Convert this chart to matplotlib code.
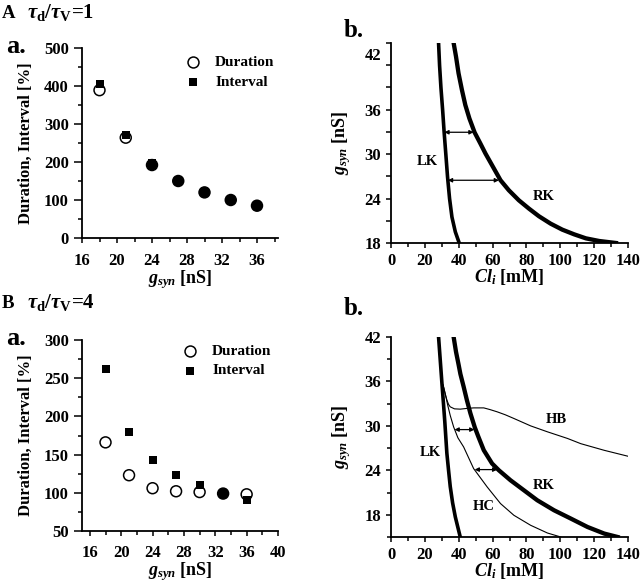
import numpy as np
import matplotlib
matplotlib.use('Agg')
import matplotlib.pyplot as plt
from matplotlib.ticker import MultipleLocator

plt.rcParams['font.family'] = ['Liberation Serif', 'DejaVu Serif']
plt.rcParams['font.weight'] = 'bold'
plt.rcParams['axes.labelweight'] = 'bold'
plt.rcParams['mathtext.fontset'] = 'custom'
plt.rcParams['mathtext.rm'] = 'Liberation Serif:bold'
plt.rcParams['mathtext.it'] = 'Liberation Serif:bold:italic'
plt.rcParams['mathtext.bf'] = 'Liberation Serif:bold'

# ---------------- data ----------------
g_syn = [18, 21, 24, 27, 30, 33, 36]
dur_A = [389, 264, 192, 150, 120, 100, 85]
int_A = [405, 271, 197, 150, 120, 100, 85]
dur_B = [166, 123, 106, 102, 101, 99, 98]
int_B = [262, 180, 143, 123, 110, 99, 91]

# bifurcation curves (Cl_i [mM], g_syn [nS])
LK_A_cl = [28.1, 28.7, 29.5, 30.5, 31.4, 32.4, 33.4, 34.6, 36.0, 38.0, 40.3]
LK_A_g = [45.0, 41.95, 38.97, 35.95, 32.92, 29.95, 26.92, 23.99, 21.5, 19.5, 18.0]
RK_A_cl = [37.0, 38.4, 39.9, 41.9, 43.9, 46.3, 49.4, 52.8, 55.8, 59.7, 64.7,
           69.6, 75.5, 81.5, 87.4, 94.3, 101.2, 108.2, 115.1, 123.0, 132.9]
RK_A_g = [45.0, 43.17, 40.91, 38.66, 36.63, 34.82, 32.92, 31.43, 30.08, 28.50,
          26.47, 25.12, 23.77, 22.64, 21.61, 20.61, 19.80, 19.17, 18.63, 18.27, 18.0]
arrow_A_g = [32.95, 26.47]
arrow_A_left = [31.5, 33.6]
arrow_A_right = [48.8, 63.8]

LK_B_cl = [28.1, 29.1, 30.1, 31.0, 31.8, 33.0, 34.0, 35.0, 36.4, 38.0, 40.9]
LK_B_g = [42.0, 38.85, 35.7, 33.0, 30.5, 26.3, 24.0, 21.8, 19.6, 17.7, 15.0]
RK_B_cl = [37.0, 38.4, 39.9, 41.0, 42.9, 44.8, 46.9, 49.5, 51.5, 54.8, 59.7,
           63.7, 70.6, 78.5, 86.4, 96.3, 106.2, 116.1, 126.0, 133.9]
RK_B_g = [42.0, 40.0, 38.3, 37.0, 35.3, 33.5, 31.7, 29.8, 28.6, 26.72, 24.92,
          24.01, 22.66, 21.31, 19.96, 18.61, 17.49, 16.35, 15.46, 15.0]
HC_B_cl = [30.8, 32.0, 33.5, 35.0, 37.0, 39.5, 42.9, 48.8, 56.8, 64.7, 72.6,
           82.5, 92.4, 100.3]
HC_B_g = [35.5, 34.4, 32.8, 31.4, 29.86, 28.4, 27.16, 24.24, 21.76, 19.51,
          17.93, 16.58, 15.54, 15.0]
HB_B_cl = [30.8, 32.0, 33.0, 34.0, 35.0, 37.5, 40.9, 44.5, 48.8, 54.8, 58.5,
           62.7, 67.5, 72.6, 82.5, 92.4, 104.3, 112.1, 126.0, 141.8]
HB_B_g = [35.5, 34.3, 33.5, 32.9, 32.57, 32.3, 32.26, 32.35, 32.43, 32.43, 32.2,
          31.9, 31.5, 31.0, 30.0, 29.2, 28.3, 27.6, 26.7, 25.8]
arrow_B_g = [29.5, 24.1]
arrow_B_left = [37.5, 49.4]
arrow_B_right = [49.3, 62.8]

W, H = 640, 584
fig = plt.figure(figsize=(W / 100, H / 100), dpi=100)


def rect(l, t, r, b):
    return [l / W, 1 - b / H, (r - l) / W, (b - t) / H]


TICK_FS = 12
LAB_FS = 12


def style(ax, xpad, ypad, ylen):
    for s in ['top', 'right']:
        ax.spines[s].set_visible(False)
    for s in ['left', 'bottom']:
        ax.spines[s].set_linewidth(1.3)
    ax.tick_params(which='both', direction='out', width=1.1, labelsize=TICK_FS)
    ax.tick_params(axis='x', which='major', length=3.6, pad=xpad)
    ax.tick_params(axis='x', which='minor', length=3.0)
    ax.tick_params(axis='y', which='major', length=ylen, pad=ypad)
    ax.tick_params(axis='y', which='minor', length=3.0)


def bold_ticks(ax):
    for axis in (ax.xaxis, ax.yaxis):
        for t in axis.get_major_ticks():
            t.label1.set_fontweight('bold')


def scatter_panel(ax, x, dur, intv, xlim, xticks, ylim, yticks, leg_x, leg_y, xpad):
    close = np.isclose(dur, intv, atol=5)
    fc = ['black' if c else 'white' for c in close]
    ax.scatter(x, dur, s=62, facecolors=fc, edgecolors='black', linewidths=1.1,
               marker='o', zorder=2)
    ax.scatter(x, intv, s=40, color='black', marker='s', zorder=3, linewidths=0)
    ax.set_xlim(*xlim)
    ax.set_ylim(*ylim)
    ax.set_xticks(xticks)
    ax.set_yticks(yticks)
    ax.xaxis.set_minor_locator(MultipleLocator(2))
    ax.yaxis.set_minor_locator(MultipleLocator((yticks[1] - yticks[0]) / 2))
    ax.set_xlabel(r'$g_{syn}$ [nS]', fontsize=LAB_FS + 1, labelpad=-1)
    ax.set_ylabel('Duration, Interval [%]', fontsize=LAB_FS)
    ax.yaxis.set_label_coords(-0.245, 0.5)
    style(ax, xpad, 4.0, 5.5)
    # legend
    ax.scatter([leg_x], [leg_y[0]], s=62, facecolors='white', edgecolors='black',
               linewidths=1.1, transform=ax.transAxes, clip_on=False)
    ax.scatter([leg_x], [leg_y[1]], s=40, color='black', marker='s', linewidths=0,
               transform=ax.transAxes, clip_on=False)
    ax.text(leg_x + 0.113, leg_y[0], 'Duration', transform=ax.transAxes,
            fontsize=11, va='center', ha='left')
    ax.text(leg_x + 0.113, leg_y[1], 'Interval', transform=ax.transAxes,
            fontsize=11, va='center', ha='left')


# ---------- A a ----------
axAa = fig.add_axes(rect(82, 48, 278, 238))
scatter_panel(axAa, g_syn, dur_A, int_A, (16, 38.4), [16, 20, 24, 28, 32, 36],
              (0, 500), [0, 100, 200, 300, 400, 500], 0.566, (0.926, 0.82), 7.5)

# ---------- B a ----------
axBa = fig.add_axes(rect(82, 340, 278, 531))
scatter_panel(axBa, g_syn, dur_B, int_B, (15, 40), [16, 20, 24, 28, 32, 36, 40],
              (50, 300), [50, 100, 150, 200, 250, 300], 0.551, (0.942, 0.838), 6.5)


def curve_style(ax, ylim):
    ax.set_xlim(0, 140)
    ax.set_ylim(*ylim)
    ax.set_xticks(range(0, 141, 20))
    ax.xaxis.set_minor_locator(MultipleLocator(10))
    ax.set_xlabel(r'$Cl_i$ [mM]', fontsize=LAB_FS + 1, labelpad=-1)
    ax.set_ylabel(r'$g_{syn}$ [nS]', fontsize=LAB_FS + 1)
    ax.yaxis.set_label_coords(-0.160, 0.5)


def arrows(ax, gs, lefts, rights):
    for g, l, r in zip(gs, lefts, rights):
        ax.annotate('', xy=(r, g), xytext=(l, g),
                    arrowprops=dict(arrowstyle='<|-|>', lw=0.9, color='black',
                                    mutation_scale=6, shrinkA=0, shrinkB=0))


# ---------- A b ----------
axAb = fig.add_axes(rect(391, 43, 628, 243))
axAb.plot(LK_A_cl, LK_A_g, color='black', lw=2.6, solid_joinstyle='round')
axAb.plot(RK_A_cl, RK_A_g, color='black', lw=3.1, solid_joinstyle='round')
arrows(axAb, arrow_A_g, arrow_A_left, arrow_A_right)
curve_style(axAb, (18, 45))
axAb.yaxis.remove_overlapping_locs = False
axAb.set_yticks([18, 24, 30, 36, 43.5], ['18', '24', '30', '36', '42'])
axAb.yaxis.set_minor_locator(MultipleLocator(3))
style(axAb, 3.5, 4.0, 3.6)
axAb.tick_params(axis='y', which='major', length=0, pad=7.0)
axAb.tick_params(axis='y', which='minor', length=3.6)
axAb.text(21.2, 28.95, 'LK', fontsize=10.5, ha='center', va='center')
axAb.text(89.9, 24.3, 'RK', fontsize=10.5, ha='center', va='center')

# ---------- B b ----------
axBb = fig.add_axes(rect(391, 337, 628, 537))
axBb.plot(LK_B_cl, LK_B_g, color='black', lw=2.6, solid_joinstyle='round')
axBb.plot(RK_B_cl, RK_B_g, color='black', lw=3.1, solid_joinstyle='round')
axBb.plot(HC_B_cl, HC_B_g, color='black', lw=0.8)
axBb.plot(HB_B_cl, HB_B_g, color='black', lw=0.8)
arrows(axBb, arrow_B_g, arrow_B_left, arrow_B_right)
curve_style(axBb, (15, 42))
axBb.set_yticks([18, 24, 30, 36, 42])
axBb.yaxis.set_minor_locator(MultipleLocator(3))
style(axBb, 3.5, 3.5, 3.6)
axBb.text(23.1, 26.4, 'LK', fontsize=10.5, ha='center', va='center')
axBb.text(89.9, 21.9, 'RK', fontsize=10.5, ha='center', va='center')
axBb.text(55.0, 19.1, 'HC', fontsize=10.5, ha='center', va='center')
axBb.text(97.8, 30.9, 'HB', fontsize=10.5, ha='center', va='center')

for a in (axAa, axBa, axAb, axBb):
    bold_ticks(a)


# ---------- panel labels ----------
def ftext(x, y, s, **kw):
    fig.text(x / W, 1 - y / H, s, va='baseline', ha='left', **kw)


ftext(2, 18, 'A', fontsize=13.5, fontweight='bold')
ftext(27, 18, r'$\tau_{\mathbf{d}}/\tau_{\mathbf{V}}$=1', fontsize=15, fontweight='bold')
ftext(6, 53, 'a.', fontsize=19, fontweight='bold')
ftext(344, 37, 'b.', fontsize=18, fontweight='bold')
ftext(2, 308, 'B', fontsize=13.5, fontweight='bold')
ftext(27, 308, r'$\tau_{\mathbf{d}}/\tau_{\mathbf{V}}$=4', fontsize=15, fontweight='bold')
ftext(6, 345, 'a.', fontsize=19, fontweight='bold')
ftext(344, 315, 'b.', fontsize=18, fontweight='bold')

fig.savefig('out.png', dpi=100)
